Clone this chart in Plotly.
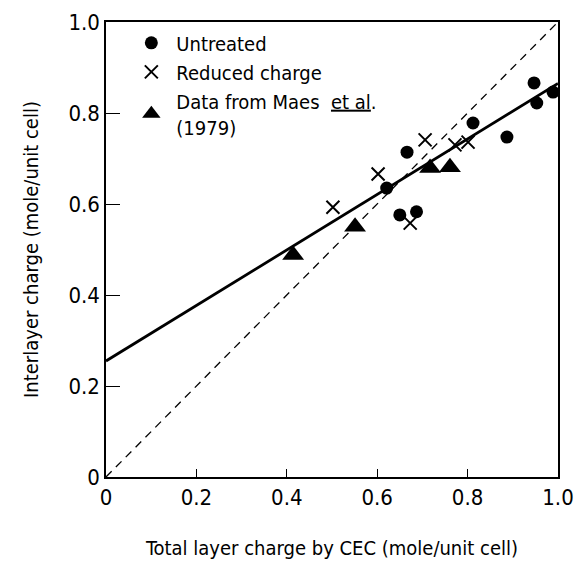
import plotly.graph_objects as go

# untreated samples
untreated_x = [0.650, 0.687, 0.621, 0.666, 0.812, 0.887, 0.947, 0.953, 0.989]
untreated_y = [0.576, 0.583, 0.635, 0.714, 0.778, 0.747, 0.866, 0.822, 0.846]

# reduced charge samples
reduced_x = [0.502, 0.602, 0.673, 0.706, 0.772, 0.801]
reduced_y = [0.593, 0.666, 0.558, 0.741, 0.730, 0.736]

# Maes et al. (1979)
maes_x = [0.414, 0.551, 0.717, 0.761]
maes_y = [0.488, 0.550, 0.679, 0.681]

# regression line and 1:1 line
fit_x = [0.0, 1.0]
fit_y = [0.255, 0.865]
one_x = [0.0, 1.0]
one_y = [0.0, 1.0]

tick_vals = [0, 0.2, 0.4, 0.6, 0.8, 1.0]
tick_text = ["0", "0.2", "0.4", "0.6", "0.8", "1.0"]

FONT = "DejaVu Sans Condensed, Arial, sans-serif"

fig = go.Figure()
fig.add_trace(go.Scatter(x=one_x, y=one_y, mode="lines", showlegend=False,
                         line=dict(color="black", width=1.3, dash="8px,6px")))
fig.add_trace(go.Scatter(x=fit_x, y=fit_y, mode="lines", showlegend=False,
                         line=dict(color="black", width=2.8)))
fig.add_trace(go.Scatter(x=untreated_x, y=untreated_y, mode="markers", name="Untreated",
                         marker=dict(symbol="circle", size=13, color="black")))
fig.add_trace(go.Scatter(x=reduced_x, y=reduced_y, mode="markers", name="Reduced charge",
                         marker=dict(symbol="x-thin", size=13, color="black",
                                     line=dict(color="black", width=2))))
fig.add_trace(go.Scatter(x=maes_x, y=maes_y, mode="markers",
                         name='Data from Maes  <span style="text-decoration:underline">et al</span>.<br>(1979)',
                         marker=dict(symbol="triangle-up", size=19, color="black")))

axis_common = dict(range=[0, 1.0], tickvals=tick_vals, ticktext=tick_text,
                   showgrid=False, zeroline=False, showline=True, mirror=True,
                   linecolor="black", linewidth=1.5, ticks="inside", tickcolor="black",
                   tickwidth=1, automargin=False,
                   tickfont=dict(size=22, color="black", family=FONT))

fig.update_xaxes(**axis_common, ticklen=8,
                 title=dict(text="Total layer charge by CEC (mole/unit cell)",
                            font=dict(size=20, color="black", family=FONT), standoff=32))
fig.update_yaxes(**axis_common, ticklen=14,
                 title=dict(text="Interlayer charge (mole/unit cell)",
                            font=dict(size=20, color="black", family=FONT), standoff=24))

fig.update_layout(
    width=577, height=562,
    margin=dict(l=106, r=19, t=22, b=85),
    plot_bgcolor="white", paper_bgcolor="white",
    font=dict(family=FONT, color="black"),
    legend=dict(x=0.045, y=0.997, xanchor="left", yanchor="top",
                bgcolor="rgba(0,0,0,0)", font=dict(size=20, color="black", family=FONT),
                tracegroupgap=0, itemwidth=40),
)

# drop the default 8px page margin so the figure fills the window
fig.write_html("out.html", config={"displayModeBar": False},
               post_script="document.body.style.margin='0';document.body.style.overflow='hidden';")
